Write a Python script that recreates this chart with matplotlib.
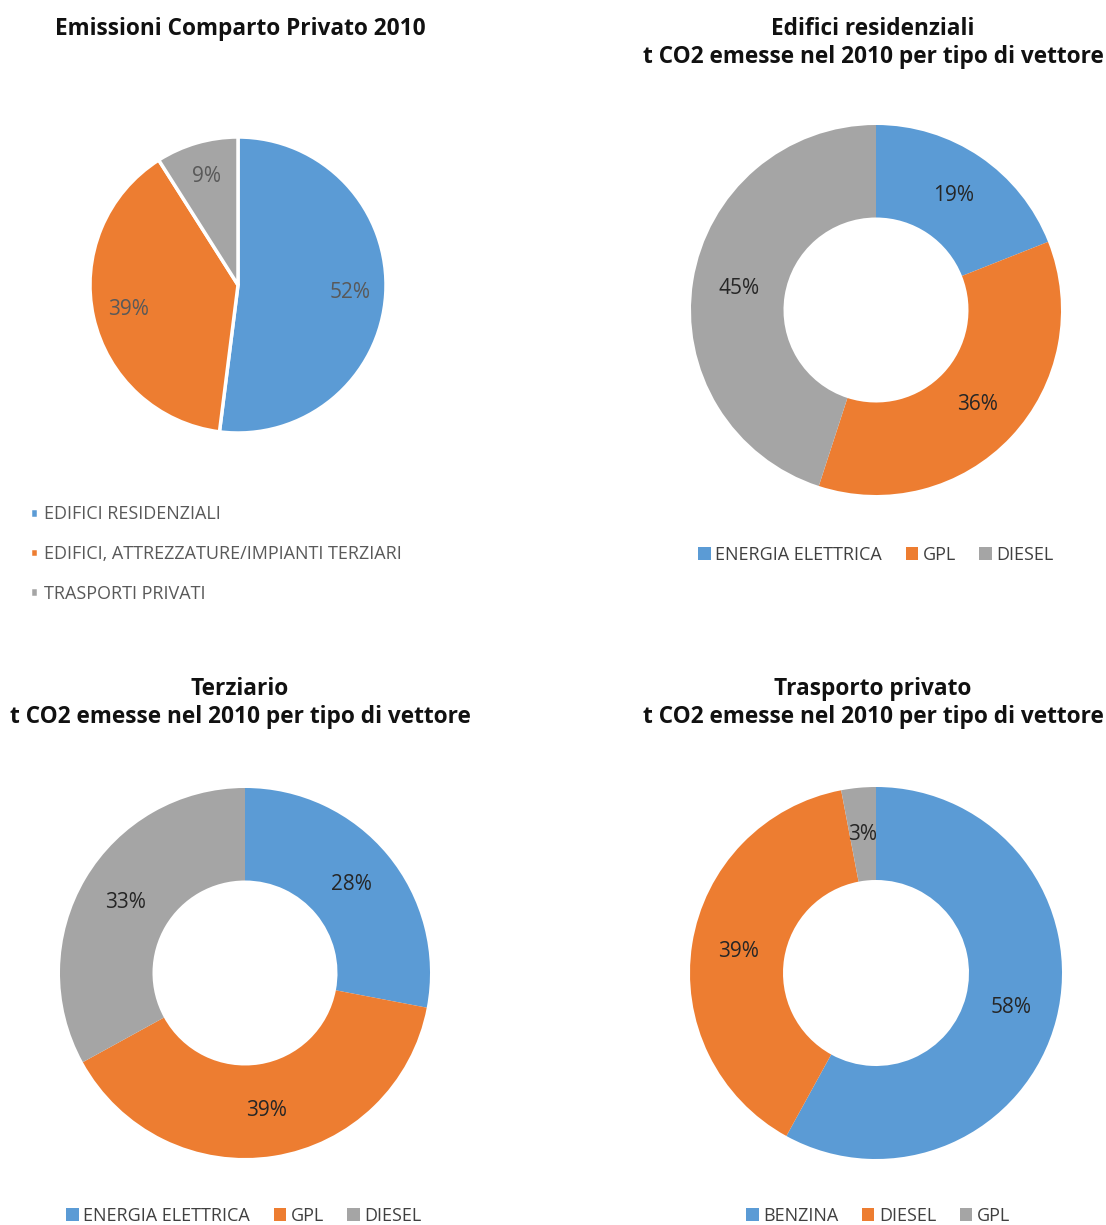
import matplotlib

matplotlib.use("Agg")

import matplotlib.pyplot as plt

# colour palette shared by all charts
BLUE = "#5B9BD5"
ORANGE = "#ED7D31"
GRAY = "#A5A5A5"
COLORS = [BLUE, ORANGE, GRAY]

# emissions split of the private sector
privato_labels = ["EDIFICI RESIDENZIALI", "EDIFICI, ATTREZZATURE/IMPIANTI TERZIARI", "TRASPORTI PRIVATI"]
privato_values = [52, 39, 9]

# residential buildings, per energy carrier
residenziali_labels = ["ENERGIA ELETTRICA", "GPL", "DIESEL"]
residenziali_values = [19, 36, 45]

# tertiary sector, per energy carrier
terziario_labels = ["ENERGIA ELETTRICA", "GPL", "DIESEL"]
terziario_values = [28, 39, 33]

# private transport, per fuel
trasporto_labels = ["BENZINA", "DIESEL", "GPL"]
trasporto_values = [58, 39, 3]

W, H = 1106, 1225
LIM = 1.03

plt.rcParams["font.family"] = ["Open Sans", "DejaVu Sans"]

fig = plt.figure(figsize=(W / 100, H / 100), dpi=100)


def pie_axes(cx, cy, r):
    # axes placed by centre and radius in pixels (y measured from the top)
    half = r * LIM
    ax = fig.add_axes([(cx - half) / W, (H - cy - half) / H, 2 * half / W, 2 * half / H])
    return ax


def title(x, y, text, size=16.3):
    fig.text(x / W, 1 - y / H, text, ha="center", va="center",
             fontsize=size, fontweight="bold", color="#111111", linespacing=1.2)


def draw_donut(ax, values, labels, legend_y, legend_x):
    wedges, _, autotexts = ax.pie(values, colors=COLORS, startangle=90, counterclock=False,
                                  autopct="%.0f%%", pctdistance=0.75,
                                  wedgeprops=dict(width=0.5, linewidth=0))
    for t in autotexts:
        t.set_fontsize(15)
        t.set_color("#262626")
    ax.set_xlim(-LIM, LIM)
    ax.set_ylim(-LIM, LIM)
    fig.legend(wedges, labels, loc="center", bbox_to_anchor=(legend_x / W, 1 - legend_y / H),
               ncol=3, frameon=False, fontsize=13, handlelength=0.7, handleheight=0.7,
               handletextpad=0.25, columnspacing=1.3, labelcolor="#404040")
    return wedges


# top left: full pie
ax1 = pie_axes(238, 285, 148)
wedges1, _, autotexts1 = ax1.pie(privato_values, colors=COLORS, startangle=90, counterclock=False,
                                 autopct="%.0f%%", pctdistance=0.76,
                                 wedgeprops=dict(edgecolor="white", linewidth=2.5))
for t in autotexts1:
    t.set_fontsize(15)
    t.set_color("#595959")
ax1.set_xlim(-LIM, LIM)
ax1.set_ylim(-LIM, LIM)
title(240, 29, "Emissioni Comparto Privato 2010")
fig.legend(wedges1, privato_labels, loc="upper left", bbox_to_anchor=(14 / W, 1 - 489 / H),
           ncol=1, frameon=False, fontsize=13, handlelength=0.45, handleheight=0.45,
           handletextpad=0.3, labelspacing=1.2, labelcolor="#595959")

# top right: residential buildings
ax2 = pie_axes(876, 310, 185)
draw_donut(ax2, residenziali_values, residenziali_labels, 555, 876)
title(873, 43, "Edifici residenziali\nt CO2 emesse nel 2010 per tipo di vettore")

# bottom left: tertiary
ax3 = pie_axes(245, 973, 185)
draw_donut(ax3, terziario_values, terziario_labels, 1216, 244)
title(240, 703, "Terziario\nt CO2 emesse nel 2010 per tipo di vettore")

# bottom right: private transport
ax4 = pie_axes(876, 973, 186)
draw_donut(ax4, trasporto_values, trasporto_labels, 1216, 878)
title(873, 703, "Trasporto privato\nt CO2 emesse nel 2010 per tipo di vettore")

fig.savefig("out.png", dpi=100, facecolor="white")
